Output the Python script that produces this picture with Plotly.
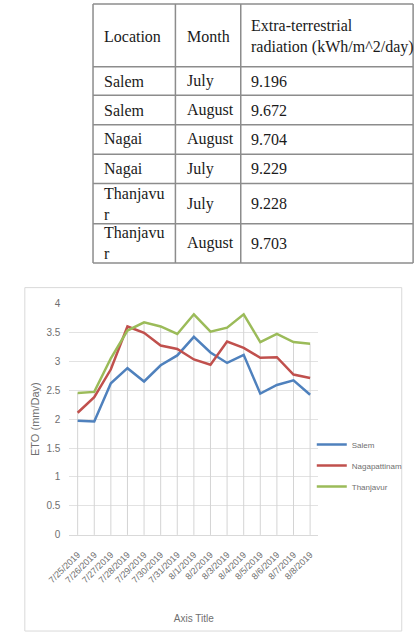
import plotly.graph_objects as go

# ---------- table data ----------
table_header = ["Location", "Month", "Extra-terrestrial<br>radiation (kWh/m^2/day)"]
locations = ["Salem", "Salem", "Nagai", "Nagai", "Thanjavu<br>r", "Thanjavu<br>r"]
months = ["July", "August", "August", "July", "July", "August"]
radiation = ["9.196", "9.672", "9.704", "9.229", "9.228", "9.703"]

# ---------- chart data ----------
dates = ["7/25/2019", "7/26/2019", "7/27/2019", "7/28/2019", "7/29/2019",
         "7/30/2019", "7/31/2019", "8/1/2019", "8/2/2019", "8/3/2019",
         "8/4/2019", "8/5/2019", "8/6/2019", "8/7/2019", "8/8/2019"]
salem = [1.97, 1.96, 2.62, 2.88, 2.65, 2.93, 3.10, 3.42, 3.15, 2.97, 3.11, 2.44, 2.59, 2.67, 2.42]
nagapattinam = [2.11, 2.38, 2.86, 3.60, 3.49, 3.27, 3.21, 3.03, 2.94, 3.34, 3.23, 3.06, 3.07, 2.77, 2.71]
thanjavur = [2.45, 2.47, 3.05, 3.53, 3.67, 3.60, 3.47, 3.81, 3.51, 3.58, 3.81, 3.33, 3.47, 3.33, 3.30]

series_names = ["Salem", "Nagapattinam", "Thanjavur"]
series_colors = ["#4F81BD", "#C0504D", "#9BBB59"]

# ---------- layout geometry (pixels) ----------
W, H = 415, 639
table_col_edges = [75, 162, 231, 413]
table_text_pad = [11, 11, 10]
table_row_edges = [-2, 62, 91, 121, 151, 181, 222, 262]

CHART_FONT = "Liberation Sans, Arial"
TABLE_FONT = "Liberation Serif, Times New Roman"
GRAY = "#6f6f6f"
LINE_GRAY = "#8c8c8c"


def px(x):
    return x / W


def py(y):
    return 1 - y / H


fig = go.Figure()

# drop lines (from highest series value down to the category axis)
drop_x, drop_y = [], []
for i, d in enumerate(dates):
    top = max(salem[i], nagapattinam[i], thanjavur[i])
    drop_x += [d, d, None]
    drop_y += [0, top, None]
fig.add_trace(go.Scatter(x=drop_x, y=drop_y, mode="lines", showlegend=False,
                         hoverinfo="skip", line=dict(color="#d4d4d4", width=1)))

for name, vals, col in zip(series_names, [salem, nagapattinam, thanjavur], series_colors):
    fig.add_trace(go.Scatter(x=dates, y=vals, mode="lines", name=name, legendgroup=name,
                             line=dict(color=col, width=2.5)))

# ---------- table built from the table arrays ----------
shapes = []
annotations = []
rows = [table_header] + [list(r) for r in zip(locations, months, radiation)]
x0t, x1t = table_col_edges[0], table_col_edges[-1]
for yy in table_row_edges:
    shapes.append(dict(type="line", xref="paper", yref="paper",
                       x0=px(x0t), x1=px(x1t), y0=py(yy), y1=py(yy),
                       line=dict(color=LINE_GRAY, width=1.5)))
for xx in table_col_edges:
    shapes.append(dict(type="line", xref="paper", yref="paper",
                       x0=px(xx), x1=px(xx), y0=py(table_row_edges[0]), y1=py(table_row_edges[-1]),
                       line=dict(color=LINE_GRAY, width=1.5)))
for r, row in enumerate(rows):
    yc = (table_row_edges[r] + table_row_edges[r + 1]) / 2 if r > 0 else (0 + table_row_edges[1]) / 2
    for c, txt in enumerate(row):
        annotations.append(dict(text=txt, xref="paper", yref="paper",
                                x=px(table_col_edges[c] + table_text_pad[c] - 1), y=py(yc),
                                xanchor="left", yanchor="middle", align="left", showarrow=False,
                                font=dict(family=TABLE_FONT, size=16, color="#1a1a1a")))

# chart frame
shapes.append(dict(type="rect", xref="paper", yref="paper",
                   x0=px(3), x1=px(401), y0=py(637), y1=py(287),
                   line=dict(color="#d9d9d9", width=1), fillcolor="rgba(0,0,0,0)", layer="below"))

fig.update_layout(
    width=W, height=H,
    margin=dict(l=0, r=0, t=0, b=0),
    paper_bgcolor="white", plot_bgcolor="white",
    font=dict(family=CHART_FONT, color=GRAY),
    showlegend=True,
    legend=dict(x=px(306), y=py(432), xanchor="left", yanchor="top",
                font=dict(size=8, color=GRAY, family=CHART_FONT),
                tracegroupgap=2, bgcolor="rgba(0,0,0,0)"),
    xaxis=dict(domain=[px(50), px(313)], type="category", range=[-0.5, 14.5],
               tickangle=-45, tickfont=dict(size=9, color=GRAY), showgrid=False,
               showline=True, linecolor="#d9d9d9", linewidth=1, ticks="",
               ticklabelstandoff=10,
               title=dict(text="Axis Title", font=dict(size=10, color=GRAY), standoff=30)),
    yaxis=dict(domain=[py(539), py(303)], range=[0, 4], dtick=0.5,
               showgrid=True, gridcolor="#e2e2e2", gridwidth=1, zeroline=False,
               showline=False, ticks="", ticklabelstandoff=8,
               tickfont=dict(size=10, color=GRAY),
               title=dict(text="ETO (mm/Day)", font=dict(size=11, color=GRAY), standoff=4)),
    shapes=shapes,
    annotations=annotations,
)

fig.write_html("out.html")
